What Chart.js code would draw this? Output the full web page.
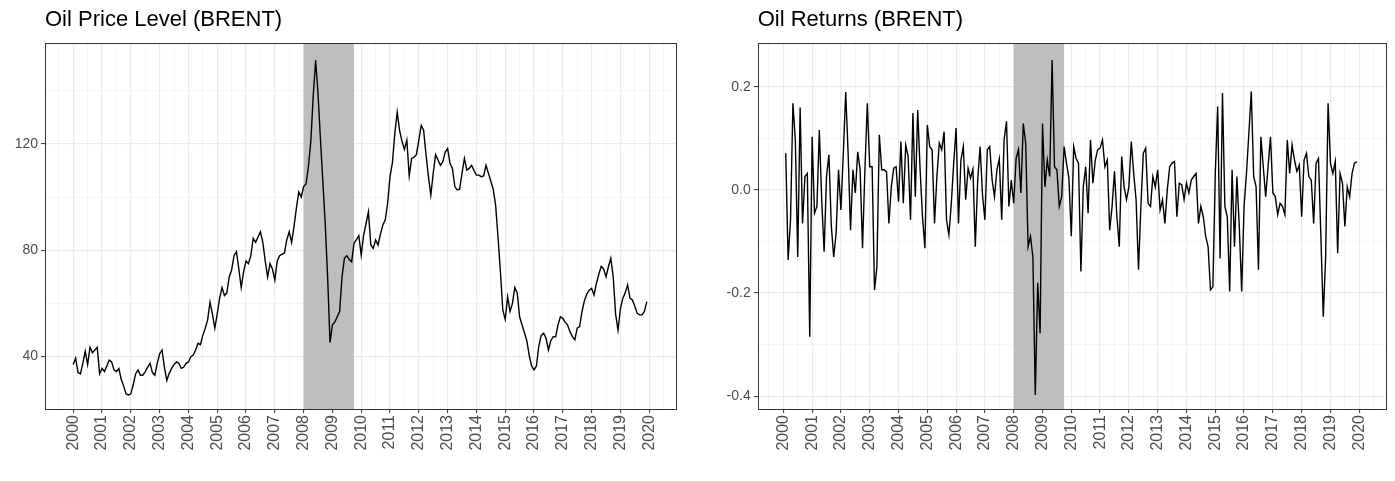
<!DOCTYPE html>
<html>
<head>
<meta charset="utf-8">
<title>Oil Price Level and Returns (BRENT)</title>
<script src="https://cdn.jsdelivr.net/npm/chart.js@4.4.1/dist/chart.umd.min.js"></script>
<style>
    body { margin: 0; background: #fff; }
    .wrap { position: relative; width: 1395px; height: 481px; }
    #priceBox { position: absolute; left: 0; top: 0; }
    #retBox { position: absolute; left: 690px; top: 0; }
</style>
</head>
<body>
<div class="wrap">
    <canvas id="priceBox" width="690" height="481"></canvas>
    <canvas id="retBox" width="705" height="481"></canvas>
</div>
<script>
// Data (monthly, first value = Jan 2000)
const startYear = 2000;

const priceLevel = [
    37, 39.4, 34, 33.5, 37.5, 42, 37, 43.5, 41.5, 42.5, 43.5, 33.5,          // 2000
    35.6, 34.4, 36.5, 38.7, 38, 35, 34.4, 35.5, 31.5, 29, 26, 25.6,           // 2001
    26, 29.5, 33.5, 35, 33, 33, 34.4, 36, 37.5, 34, 33, 37.5,                 // 2002
    41, 42.5, 36, 31, 33.7, 35.6, 37, 38, 37.5, 35.6, 36, 37.5,               // 2003
    38, 40, 40.6, 42.5, 45, 44.5, 48, 50.7, 53.8, 60.5, 56, 50.7,             // 2004
    56, 62, 66, 63, 64, 70, 72.6, 78, 79.5, 73, 66, 72,                       // 2005
    76, 75, 78, 84.5, 83, 85, 87, 83, 76, 70, 75, 73,                         // 2006
    68.8, 76, 78, 78.5, 79, 84, 87, 83, 89, 96, 102, 100,                     // 2007
    104, 105, 111.5, 121, 138, 151.5, 139, 122, 106, 90, 70, 45.3,            // 2008
    52, 53, 55, 57, 70, 77, 78, 76.5, 75.7, 82.6, 84, 85.5,                   // 2009
    78.2, 85.7, 90, 94.5, 82, 80.7, 83.9, 82, 86, 89.5, 91.4, 97.6,           // 2010
    107.7, 113, 124, 132, 125, 121, 118, 121.5, 108, 114.6, 115, 116,         // 2011
    121.5, 127, 125.2, 116, 107.7, 100.8, 109, 116, 114, 112, 113.3, 117,     // 2012
    118.3, 112.7, 110.8, 104, 102.7, 103, 109, 114.6, 110.2, 110.8, 112, 110, // 2013
    108.3, 108.3, 107.7, 108, 112, 109, 106, 103, 97, 85, 72, 57.5,           // 2014
    54, 62.5, 57, 60, 66, 64, 55, 52, 49, 46, 40.5, 36.5,                     // 2015
    35, 36.5, 44, 48, 48.8, 47, 42.5, 46, 47.5, 47.5, 52, 55,                 // 2016
    54.4, 53, 51.9, 49.4, 47.5, 46.3, 50.7, 51.3, 57, 61, 63.5, 65,           // 2017
    65.7, 63.2, 67.6, 71, 74, 73, 70, 73.8, 77, 70, 56, 50,                   // 2018
    58, 62, 64, 67, 62, 61.3, 59, 56.3, 55.7, 55.7, 57, 60.7                  // 2019
];

// Returns start in Feb 2000
const oilReturns = [
    0.071, -0.136, -0.058, 0.168, 0.097, -0.13, 0.16, -0.065, 0.026, 0.032, -0.285,         // 2000
    0.103, -0.045, -0.032, 0.116, -0.02, -0.12, 0.026, 0.068, -0.07, -0.13, -0.084, 0.039,  // 2001
    -0.039, 0.071, 0.19, 0.071, -0.078, 0.039, -0.006, 0.074, 0.039, -0.113, 0.039, 0.168,  // 2002
    0.045, 0.045, -0.194, -0.149, 0.107, 0.039, 0.039, 0.035, -0.065, 0.006, 0.042, 0.045,  // 2003
    -0.023, 0.094, -0.026, 0.087, 0.065, -0.058, 0.149, -0.013, 0.155, 0.039, -0.052, -0.113, // 2004
    0.126, 0.084, 0.078, -0.065, 0.026, 0.091, 0.078, 0.113, -0.058, -0.087, -0.026, 0.052, // 2005
    0.12, -0.065, 0.058, 0.084, -0.019, 0.042, 0.023, 0.04, -0.11, 0.02, 0.084, -0.01,      // 2006
    -0.058, 0.078, 0.084, 0.02, -0.013, 0.039, 0.06, -0.058, 0.097, 0.133, -0.032, 0.019,   // 2007
    -0.026, 0.061, 0.078, -0.006, 0.129, 0.09, -0.11, -0.09, -0.13, -0.398, -0.18, -0.278,  // 2008
    0.129, 0.006, 0.058, 0.026, 0.252, 0.045, 0.039, -0.032, -0.013, 0.084, 0.052, 0.023,   // 2009
    -0.09, 0.084, 0.061, 0.052, -0.158, 0.006, 0.045, -0.045, 0.097, 0.013, 0.058, 0.078,   // 2010
    0.081, 0.097, 0.045, 0.058, -0.078, -0.032, 0.036, -0.052, -0.11, 0.065, 0.006, -0.019, // 2011
    0.006, 0.094, 0.032, -0.019, -0.155, -0.032, 0.071, 0.081, -0.026, -0.032, 0.026, 0.006, // 2012
    0.039, -0.039, -0.019, -0.065, 0.0, 0.045, 0.052, 0.055, -0.052, 0.013, 0.01, -0.019,   // 2013
    0.013, -0.006, 0.019, 0.026, 0.032, -0.065, -0.032, -0.052, -0.09, -0.11, -0.194, -0.188, // 2014
    0.032, 0.162, -0.133, 0.188, -0.032, -0.052, -0.197, 0.039, -0.11, 0.026, -0.071, -0.197, // 2015
    -0.032, 0.032, 0.11, 0.191, 0.026, 0.006, -0.155, 0.103, 0.045, -0.013, 0.045, 0.103,   // 2016
    -0.006, -0.013, -0.048, -0.026, -0.032, -0.048, 0.097, 0.032, 0.087, 0.058, 0.036, 0.048, // 2017
    -0.052, 0.058, 0.071, 0.026, 0.019, -0.065, 0.052, 0.061, -0.09, -0.246, -0.129, 0.168, // 2018
    0.052, 0.032, 0.055, -0.123, 0.032, 0.013, -0.071, 0.006, -0.013, 0.032, 0.052, 0.055   // 2019
];

// Axis ticks
const yearLabels = ['2000', '2001', '2002', '2003', '2004', '2005', '2006', '2007', '2008', '2009',
    '2010', '2011', '2012', '2013', '2014', '2015', '2016', '2017', '2018', '2019', '2020'];
const priceMajor = [40, 80, 120];
const priceMinor = [60, 100, 140];
const returnMajor = [-0.4, -0.2, 0.0, 0.2];
const returnMinor = [-0.3, -0.1, 0.1];

// Recession band
const shadeFrom = 2008;
const shadeTo = 2009.75;

const FONT = "'Liberation Sans', Arial, sans-serif";
const GRID = '#ebebeb';
const GRID_MINOR = '#f2f2f2';
const INK = '#333333';

// x grid: every year + half years
const yearVals = yearLabels.map(Number);
const xMajor = yearVals;
const xMinor = yearVals.map(y => y - 0.5).concat([2020.5]);

// Shade, panel border and title
const panelDeco = {
    id: 'panelDeco',
    beforeDatasetsDraw(chart, args, opts) {
        const { ctx, chartArea: a, scales: { x } } = chart;
        const x0 = x.getPixelForValue(opts.shadeFrom);
        const x1 = x.getPixelForValue(opts.shadeTo);
        ctx.save();
        ctx.fillStyle = '#bebebe';
        ctx.fillRect(x0, a.top, x1 - x0, a.bottom - a.top);
        ctx.restore();
    },
    afterDraw(chart, args, opts) {
        const { ctx, chartArea: a } = chart;
        ctx.save();
        ctx.strokeStyle = INK;
        ctx.lineWidth = 1;
        ctx.strokeRect(Math.round(a.left) + 0.5, Math.round(a.top) + 0.5,
            Math.round(a.right - a.left), Math.round(a.bottom - a.top));
        ctx.fillStyle = '#000';
        ctx.font = `22px ${FONT}`;
        ctx.textBaseline = 'alphabetic';
        ctx.textAlign = 'left';
        ctx.fillText(opts.title, a.left, 26);
        ctx.restore();
    }
};

function makeChart(canvasId, points, cfg) {
    const isMajorX = v => xMajor.some(m => Math.abs(m - v) < 1e-6);
    const isMajorY = v => cfg.yMajor.some(m => Math.abs(m - v) < 1e-6);
    const xTicks = xMajor.concat(xMinor).filter(v => v > cfg.xMin && v < cfg.xMax).sort((a, b) => a - b);
    const yTicks = cfg.yMajor.concat(cfg.yMinor).filter(v => v > cfg.yMin && v < cfg.yMax).sort((a, b) => a - b);

    return new Chart(document.getElementById(canvasId), {
        type: 'line',
        data: {
            datasets: [{
                data: points,
                borderColor: '#000',
                borderWidth: 1.4,
                pointRadius: 0,
                tension: 0,
                fill: false
            }]
        },
        options: {
            responsive: false,
            animation: false,
            layout: { padding: { top: 43, right: cfg.padRight, left: 0, bottom: 0 } },
            plugins: {
                legend: { display: false },
                tooltip: { enabled: false },
                panelDeco: { title: cfg.title, shadeFrom, shadeTo }
            },
            scales: {
                x: {
                    type: 'linear',
                    min: cfg.xMin,
                    max: cfg.xMax,
                    afterBuildTicks: axis => { axis.ticks = xTicks.map(v => ({ value: v })); },
                    afterFit: axis => { axis.height = 72; },
                    border: { display: false },
                    grid: {
                        color: c => isMajorX(c.tick.value) ? GRID : GRID_MINOR,
                        lineWidth: c => isMajorX(c.tick.value) ? 1.2 : 0.8,
                        tickColor: c => isMajorX(c.tick.value) ? INK : 'rgba(0,0,0,0)',
                        tickWidth: 1,
                        tickLength: 4
                    },
                    ticks: {
                        autoSkip: false,
                        minRotation: 90,
                        maxRotation: 90,
                        padding: 2,
                        color: '#4d4d4d',
                        font: { family: FONT, size: 16 },
                        callback: v => isMajorX(v) ? String(Math.round(v)) : ''
                    }
                },
                y: {
                    min: cfg.yMin,
                    max: cfg.yMax,
                    afterBuildTicks: axis => { axis.ticks = yTicks.map(v => ({ value: v })); },
                    afterFit: axis => { axis.width = cfg.yWidth; },
                    border: { display: false },
                    grid: {
                        color: c => isMajorY(c.tick.value) ? GRID : GRID_MINOR,
                        lineWidth: c => isMajorY(c.tick.value) ? 1.2 : 0.8,
                        tickColor: c => isMajorY(c.tick.value) ? INK : 'rgba(0,0,0,0)',
                        tickWidth: 1,
                        tickLength: 4
                    },
                    ticks: {
                        autoSkip: false,
                        padding: 3,
                        color: '#4d4d4d',
                        font: { family: FONT, size: 14 },
                        callback: v => isMajorY(v) ? cfg.fmt(v) : ''
                    }
                }
            }
        },
        plugins: [panelDeco]
    });
}

const pricePoints = priceLevel.map((v, i) => ({ x: startYear + i / 12, y: v }));
const returnPoints = oilReturns.map((v, i) => ({ x: startYear + (i + 1) / 12, y: v }));

makeChart('priceBox', pricePoints, {
    title: 'Oil Price Level (BRENT)',
    xMin: 1999.02, xMax: 2020.93,
    yMin: 20.3, yMax: 158,
    yMajor: priceMajor, yMinor: priceMinor,
    yWidth: 45, padRight: 14,
    fmt: v => String(v)
});

makeChart('retBox', returnPoints, {
    title: 'Oil Returns (BRENT)',
    xMin: 1999.11, xMax: 2020.92,
    yMin: -0.425, yMax: 0.285,
    yMajor: returnMajor, yMinor: returnMinor,
    yWidth: 67.7, padRight: 7,
    fmt: v => v.toFixed(1)
});
</script>
</body>
</html>
